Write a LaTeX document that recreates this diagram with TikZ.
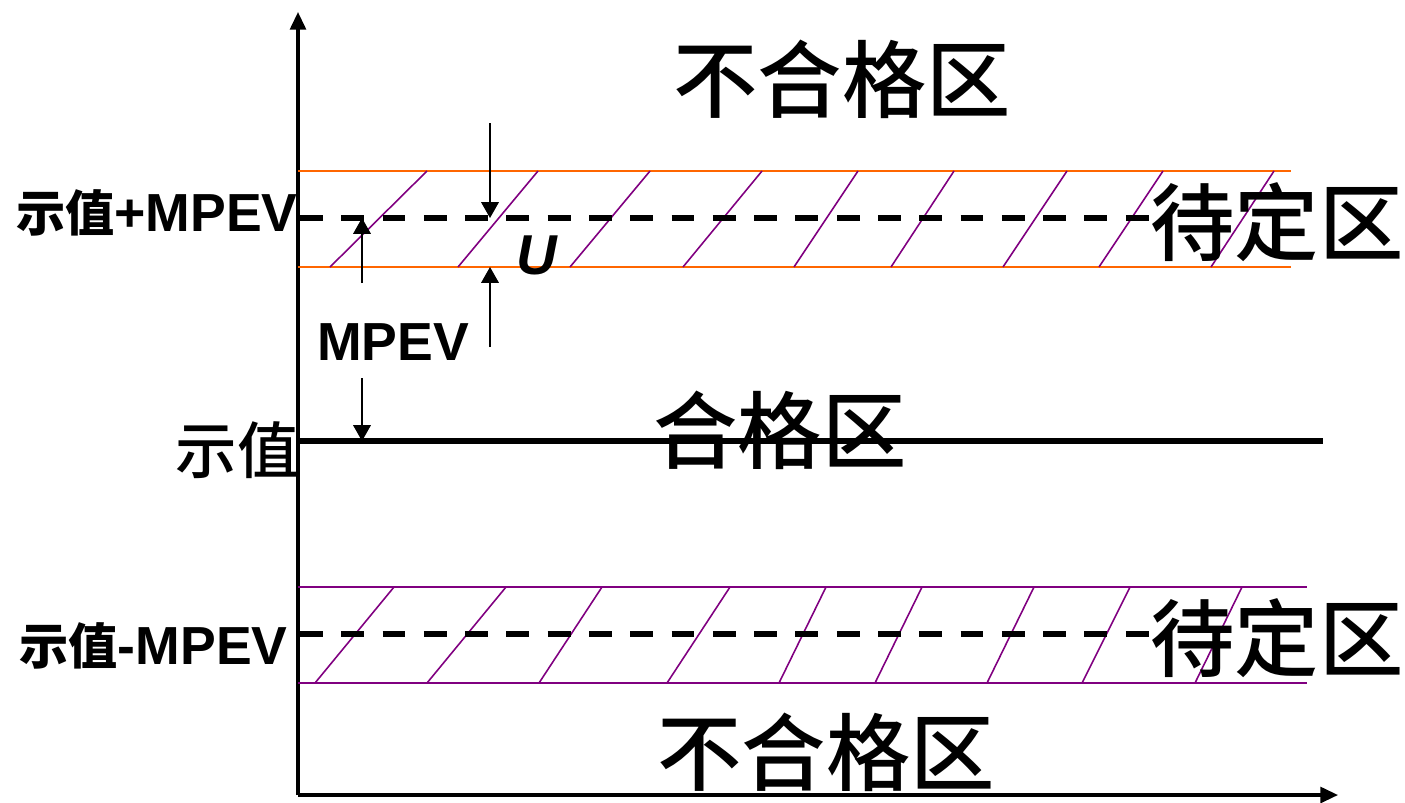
\documentclass[tikz,border=0pt]{standalone}
\usepackage{fontspec}
\setmainfont{Liberation Sans}
\newfontfamily\cjk{Noto Sans CJK SC}[UprightFont=* Medium]
\usetikzlibrary{arrows.meta}
\definecolor{bandorange}{RGB}{255,102,0}
\definecolor{hatchpurple}{RGB}{128,0,128}
\begin{document}
\begin{tikzpicture}[x=0.02cm,y=-0.02cm,
  axisline/.style={line width=1.8pt,-{Triangle[length=10pt,width=9pt]}},
  midline/.style={line width=3pt},
  dashline/.style={line width=3.4pt,dash pattern=on 13pt off 10.5pt},
  orangeline/.style={bandorange,line width=1.1pt},
  purpleline/.style={hatchpurple,line width=1.1pt},
  hatch/.style={hatchpurple,line width=0.9pt},
  dimarrow/.style={line width=0.8pt,-{Triangle[length=9pt,width=10pt]}},
  bigcjk/.style={inner sep=0pt,font=\cjk\fontsize{48}{50}\selectfont},
  lbl/.style={inner sep=0pt,font=\bfseries\fontsize{30.5}{32}\selectfont},
]
\useasboundingbox (0,0) rectangle (1405,802);
% axes
\coordinate (O) at (298,795);
\coordinate (ytop) at (298,12);
\coordinate (xend) at (1338,795);
\draw[axisline] (O) -- (ytop);
\draw[axisline] (O) -- (xend);
% middle line
\coordinate (m0) at (298,441);
\coordinate (m1) at (1323,441);
\draw[midline] (m0) -- (m1);
% top band
\coordinate (t0) at (298,171); \coordinate (t1) at (1291,171);
\coordinate (b0) at (298,267); \coordinate (b1) at (1291,267);
\draw[orangeline] (t0) -- (t1);
\draw[orangeline] (b0) -- (b1);
\foreach \bx/\tx in {330/427,458/538,570/650,683/762,794/858,891/954,1003/1067,1099/1163,1211/1274}
  \draw[hatch] (\bx,267) -- (\tx,171);
% lower band
\coordinate (lt0) at (298,587); \coordinate (lt1) at (1307,587);
\coordinate (lb0) at (298,683); \coordinate (lb1) at (1307,683);
\draw[purpleline] (lt0) -- (lt1);
\draw[purpleline] (lb0) -- (lb1);
\foreach \bx/\tx in {315/394,427/506,539/602,667/730,779/826,875/922,987/1034,1082/1130,1195/1242}
  \draw[hatch] (\bx,683) -- (\tx,587);
% dashed lines
\coordinate (d0) at (300,218); \coordinate (d1) at (1160,218);
\draw[dashline] (d0) -- (d1);
\coordinate (e0) at (300,634); \coordinate (e1) at (1160,634);
\draw[dashline] (e0) -- (e1);
% dimension arrows
\coordinate (ua0) at (490,123); \coordinate (ua1) at (490,218);
\coordinate (ub0) at (490,347); \coordinate (ub1) at (490,267);
\draw[dimarrow] (ua0) -- (ua1);
\draw[dimarrow] (ub0) -- (ub1);
\coordinate (ma0) at (362,283); \coordinate (ma1) at (362,218);
\coordinate (mb0) at (362,378); \coordinate (mb1) at (362,441);
\draw[dimarrow] (ma0) -- (ma1);
\draw[dimarrow] (mb0) -- (mb1);
% texts
\node[bigcjk] (nq1) at (842,79) {不合格区};
\node[bigcjk] (q) at (780,430) {合格区};
\node[bigcjk] (p1) at (1277,222) {待定区};
\node[bigcjk] (p2) at (1277,638) {待定区};
\node[bigcjk] (nq2) at (826,752) {不合格区};
\node[inner sep=0pt,font=\cjk\fontsize{35}{37}\selectfont] (sz) at (237,450) {示值};
\node[lbl,anchor=east] (szp) at (298,213) {{\cjk\fontsize{28}{30}\selectfont 示值}+MPEV};
\node[lbl,anchor=east] (szm) at (288,646) {{\cjk\fontsize{28}{30}\selectfont 示值}-MPEV};
\node[lbl] (mpev) at (393,342) {MPEV};
\node[inner sep=0pt,font=\bfseries\itshape\fontsize{32}{34}\selectfont] (u) at (537,255) {U};
\end{tikzpicture}
\end{document}
